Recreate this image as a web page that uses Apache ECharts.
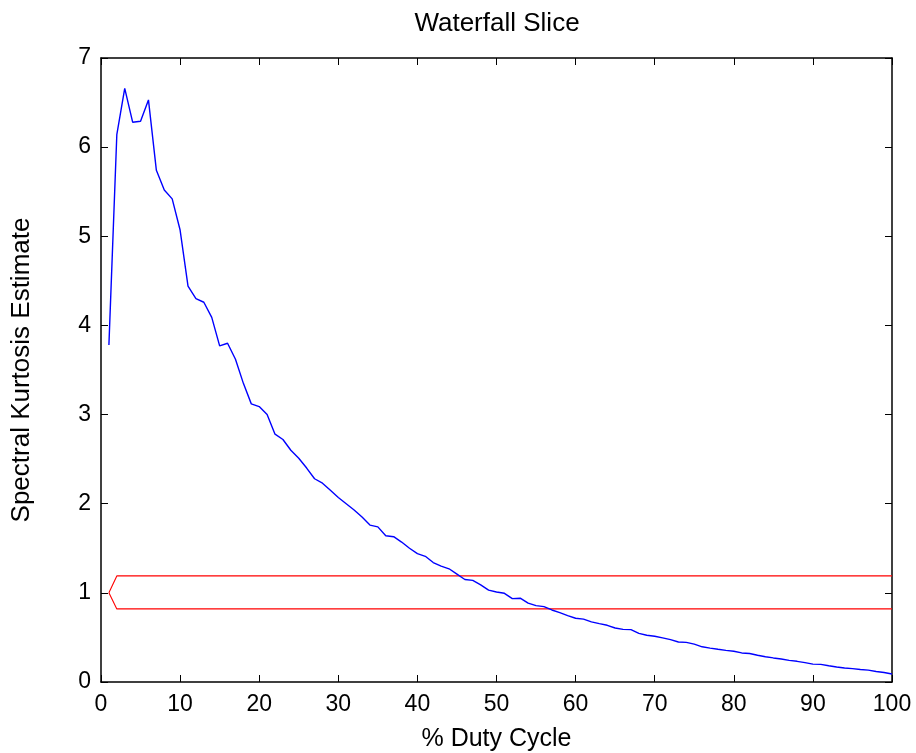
<!DOCTYPE html>
<html>
<head>
<meta charset="utf-8">
<script src="https://cdn.jsdelivr.net/npm/echarts@6/dist/echarts.min.js"></script>
<style>
  html, body { margin: 0; padding: 0; background: #ffffff; }
  #chart { width: 916px; height: 753px; }
</style>
</head>
<body>
<div id="chart"></div>
<script>
// Spectral kurtosis estimate for duty cycles 1..100 %
const dutyCycle = [
  1, 2, 3, 4, 5, 6, 7, 8, 9, 10,
  11, 12, 13, 14, 15, 16, 17, 18, 19, 20,
  21, 22, 23, 24, 25, 26, 27, 28, 29, 30,
  31, 32, 33, 34, 35, 36, 37, 38, 39, 40,
  41, 42, 43, 44, 45, 46, 47, 48, 49, 50,
  51, 52, 53, 54, 55, 56, 57, 58, 59, 60,
  61, 62, 63, 64, 65, 66, 67, 68, 69, 70,
  71, 72, 73, 74, 75, 76, 77, 78, 79, 80,
  81, 82, 83, 84, 85, 86, 87, 88, 89, 90,
  91, 92, 93, 94, 95, 96, 97, 98, 99, 100
];
const skEstimate = [
  3.78, 6.14, 6.66, 6.28, 6.29, 6.53, 5.74, 5.52, 5.42, 5.07,
  4.44, 4.30, 4.26, 4.09, 3.77, 3.80, 3.62, 3.35, 3.12, 3.09,
  3.00, 2.78, 2.72, 2.60, 2.51, 2.40, 2.28, 2.23, 2.15, 2.07,
  2.00, 1.93, 1.85, 1.76, 1.74, 1.64, 1.63, 1.57, 1.50, 1.44,
  1.41, 1.34, 1.30, 1.27, 1.21, 1.15, 1.14, 1.09, 1.03, 1.01,
  0.995, 0.935, 0.94, 0.885, 0.857, 0.845, 0.808, 0.778, 0.745, 0.715,
  0.705, 0.675, 0.655, 0.636, 0.606, 0.59, 0.587, 0.545, 0.524, 0.513,
  0.495, 0.475, 0.449, 0.445, 0.425, 0.395, 0.38, 0.367, 0.355, 0.345,
  0.326, 0.32, 0.30, 0.283, 0.27, 0.258, 0.243, 0.232, 0.218, 0.20,
  0.198, 0.182, 0.168, 0.157, 0.15, 0.14, 0.133, 0.118, 0.106, 0.09
];

// Detection thresholds around the expected value of 1
const thresholdX = [1, 2, 100];
const upperThreshold = [1, 1.19, 1.19];
const lowerThreshold = [1, 0.82, 0.82];

const xTicks = [0, 10, 20, 30, 40, 50, 60, 70, 80, 90, 100];
const yTicks = [0, 1, 2, 3, 4, 5, 6, 7];

const pairs = (xs, ys) => xs.map((x, i) => [x, ys[i]]);

const FONT = '"Liberation Sans", Arial, Helvetica, sans-serif';
const INK = '#000000';
const TICK_SIZE = 23;

const chart = echarts.init(document.getElementById('chart'), null, { renderer: 'canvas' });

const axisCommon = {
  type: 'value',
  splitLine: { show: false },
  axisLine: { show: true, onZero: false, lineStyle: { color: INK, width: 1.5 } },
  axisTick: { show: true, inside: true, length: 7, lineStyle: { color: INK, width: 1 } }
};

chart.setOption({
  animation: false,
  backgroundColor: '#ffffff',
  title: {
    text: 'Waterfall Slice',
    left: 492,
    top: 6,
    textAlign: 'center',
    textStyle: { fontFamily: FONT, fontSize: 26, fontWeight: 'normal', color: INK }
  },
  grid: {
    left: 101, right: 24, top: 58, bottom: 71,
    containLabel: false,
    outerBoundsMode: 'none'
  },
  xAxis: [
    Object.assign({}, axisCommon, {
      position: 'bottom',
      min: xTicks[0], max: xTicks[xTicks.length - 1], interval: 10,
      name: '% Duty Cycle',
      nameLocation: 'middle',
      nameGap: 45,
      nameTextStyle: { fontFamily: FONT, fontSize: 25, color: INK },
      axisLabel: { show: true, margin: 11, fontFamily: FONT, fontSize: TICK_SIZE, color: INK }
    }),
    Object.assign({}, axisCommon, {
      position: 'top',
      min: xTicks[0], max: xTicks[xTicks.length - 1], interval: 10,
      axisLabel: { show: false }
    })
  ],
  yAxis: [
    Object.assign({}, axisCommon, {
      position: 'left',
      min: yTicks[0], max: yTicks[yTicks.length - 1], interval: 1,
      name: 'Spectral Kurtosis Estimate',
      nameLocation: 'middle',
      nameGap: 66,
      nameTextStyle: { fontFamily: FONT, fontSize: 26, color: INK },
      axisLabel: { show: true, margin: 10, fontFamily: FONT, fontSize: TICK_SIZE, color: INK }
    }),
    Object.assign({}, axisCommon, {
      position: 'right',
      min: yTicks[0], max: yTicks[yTicks.length - 1], interval: 1,
      axisLabel: { show: false }
    })
  ],
  series: [
    {
      type: 'line',
      data: pairs(dutyCycle, skEstimate),
      showSymbol: false,
      lineStyle: { color: '#0000ff', width: 1.4 },
      z: 3
    },
    {
      type: 'line',
      data: pairs(thresholdX, upperThreshold),
      showSymbol: false,
      lineStyle: { color: '#ff0000', width: 1.1 },
      z: 2
    },
    {
      type: 'line',
      data: pairs(thresholdX, lowerThreshold),
      showSymbol: false,
      lineStyle: { color: '#ff0000', width: 1.1 },
      z: 2
    }
  ]
});
</script>
</body>
</html>
